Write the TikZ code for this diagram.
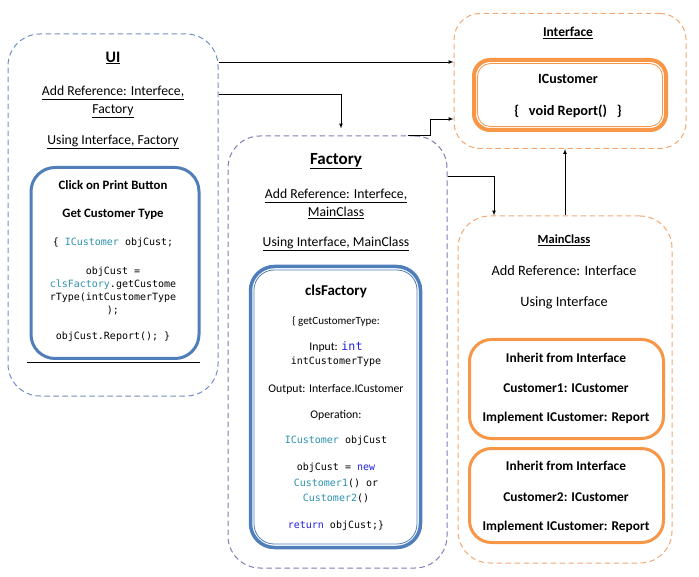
\documentclass[tikz,border=0pt]{standalone}
\usepackage{fontspec}
\setmainfont{Carlito}
\setmonofont{DejaVu Sans Mono}
\usetikzlibrary{arrows}
\usepackage{xcolor}
\definecolor{uiblue}{HTML}{6F8FC4}
\definecolor{boxblue}{HTML}{4F7EBB}
\definecolor{facpurple}{HTML}{857BB5}
\definecolor{dashorange}{HTML}{F2A872}
\definecolor{boxorange}{HTML}{F79646}
\definecolor{typeteal}{HTML}{2B91AF}
\definecolor{keyblue}{HTML}{2020E0}
\begin{document}
\begin{tikzpicture}[x=1pt,y=-1pt,>=latex]
\tikzstyle{every node}+=[inner sep=0pt]
\tikzstyle{outerbox}=[draw, rectangle, rounded corners=32pt, line width=1pt, dash pattern=on 5.5pt off 3.5pt]
\tikzstyle{innerbox}=[draw, rectangle, rounded corners=24pt, line width=3pt]
\tikzstyle{thinbox}=[draw, rectangle, rounded corners=20pt, line width=0.8pt]
\tikzstyle{txt}=[font=\fontsize{13.7}{16}\selectfont]
\tikzstyle{maintxt}=[font=\fontsize{14.3}{16}\selectfont]
\tikzstyle{smalltxt}=[font=\fontsize{11.7}{14}\selectfont]
\tikzstyle{btxt}=[font=\fontsize{12.8}{15}\selectfont\bfseries]
\tikzstyle{mainbtxt}=[font=\fontsize{13.4}{15}\selectfont\bfseries]
\tikzstyle{codetxt}=[font=\fontsize{10}{13}\selectfont\ttfamily, align=center]
\tikzstyle{arr}=[->, line width=0.7pt]
\useasboundingbox (0,0) rectangle (699,577);
\node[outerbox, draw=uiblue, minimum width=210, minimum height=362] (ui) at (113,215) {};
\node[innerbox, draw=boxblue, minimum width=168, minimum height=191] (uiin) at (115,263) {};
\draw[line width=0.8pt] (27,362) -- (200,362);
\node[font=\fontsize{16}{18}\selectfont\bfseries] (uititle) at (113,58) {\underline{UI}};
\node[txt] (uiref1) at (113,93) {\underline{Add Reference: Interfece,}};
\node[txt] (uiref2) at (113,111) {\underline{Factory}};
\node[txt] (uiusing) at (113,142) {\underline{Using Interface, Factory}};
\node[btxt] (uiclick) at (113,185) {Click on Print Button};
\node[btxt] (uiget) at (113,214) {Get Customer Type};
\node[codetxt] (uidecl) at (113,243) {\{ \textcolor{typeteal}{ICustomer} objCust;};
\node[codetxt] (uicall) at (113,291) {objCust =\\\textcolor{typeteal}{clsFactory}.getCustome\\rType(intCustomerType\\);};
\node[codetxt] (uireport) at (113,337) {objCust.Report(); \}};
\node[outerbox, draw=facpurple, minimum width=219, minimum height=432] (fac) at (337.5,352) {};
\node[innerbox, draw=boxblue, line width=3.5pt, minimum width=170, minimum height=281] (facin) at (335.5,407) {};
\node[thinbox, draw=boxblue, minimum width=163, minimum height=274] (facin2) at (335.5,407) {};
\node[font=\fontsize{17}{19}\selectfont\bfseries] (factitle) at (336,161) {\underline{Factory}};
\node[txt] (facref1) at (336,196) {\underline{Add Reference: Interfece,}};
\node[txt] (facref2) at (336,213) {\underline{MainClass}};
\node[txt] (facusing) at (336,244) {\underline{Using Interface, MainClass}};
\node[font=\fontsize{15}{18}\selectfont\bfseries] (clsname) at (336,291) {clsFactory};
\node[font=\fontsize{11}{13}\selectfont] (facget) at (336,321) {\{ getCustomerType:};
\node[smalltxt] (facinput) at (336,347) {Input: \texttt{\textcolor{keyblue}{int}}};
\node[codetxt] (facinvar) at (336,362) {intCustomerType};
\node[smalltxt] (facout) at (336,389) {Output: Interface.ICustomer};
\node[smalltxt] (facop) at (336,415) {Operation:};
\node[codetxt] (facdecl) at (336,441) {\textcolor{typeteal}{ICustomer} objCust};
\node[codetxt, font=\fontsize{10}{15.5}\selectfont\ttfamily] (facnew) at (336,483) {objCust = \textcolor{keyblue}{new}\\\textcolor{typeteal}{Customer1}() or\\\textcolor{typeteal}{Customer2}()};
\node[codetxt] (facret) at (336,526) {\textcolor{keyblue}{return} objCust;\}};
\node[outerbox, draw=dashorange, rounded corners=26pt, minimum width=232, minimum height=135] (iface) at (570,81) {};
\node[innerbox, draw=boxorange, rounded corners=16pt, line width=4pt, minimum width=192, minimum height=70] (ifacein) at (570,95) {};
\node[thinbox, draw=boxorange, rounded corners=13pt, minimum width=185, minimum height=63] (ifacein2) at (570,95) {};
\node[font=\fontsize{13.5}{16}\selectfont\bfseries] (ifacetitle) at (568,33) {\underline{Interface}};
\node[font=\fontsize{14}{16}\selectfont\bfseries] (ifacename) at (568,79) {ICustomer};
\node[font=\fontsize{14.3}{16}\selectfont\bfseries] (ifacevoid) at (568,111) {\{\ \ \ void Report()\ \ \ \}};
\node[outerbox, draw=dashorange, minimum width=214, minimum height=347] (main) at (565,389.5) {};
\node[innerbox, draw=boxorange, rounded corners=22pt, minimum width=194, minimum height=99] (cust1) at (566.5,389) {};
\node[innerbox, draw=boxorange, rounded corners=22pt, minimum width=194, minimum height=94] (cust2) at (566.5,495.5) {};
\node[font=\fontsize{12.5}{14}\selectfont\bfseries] (maintitle) at (564,240) {\underline{MainClass}};
\node[maintxt] (mainref) at (564,271) {Add Reference: Interface};
\node[maintxt] (mainusing) at (564,303) {Using Interface};
\node[mainbtxt] (c1inherit) at (566,358) {Inherit from Interface};
\node[mainbtxt] (c1name) at (566,388) {Customer1: ICustomer};
\node[mainbtxt] (c1impl) at (566,418) {Implement ICustomer: Report};
\node[mainbtxt] (c2inherit) at (566,466) {Inherit from Interface};
\node[mainbtxt] (c2name) at (566,497) {Customer2: ICustomer};
\node[mainbtxt] (c2impl) at (566,527) {Implement ICustomer: Report};
\draw[arr] (ui.east |- 0,62) -- (iface.west |- 0,62);
\draw[arr] (ui.east |- 0,94) -| ([xshift=3.5pt,yshift=7pt]fac.north);
\draw[arr] ([xshift=70pt]fac.north) -- ++(23,0) |- (iface.west |- 0,119);
\draw[arr] (fac.east |- 0,176) -| ([xshift=-71pt]main.north);
\draw[arr] (main.north) -- (main.north |- iface.south);
\end{tikzpicture}
\end{document}
